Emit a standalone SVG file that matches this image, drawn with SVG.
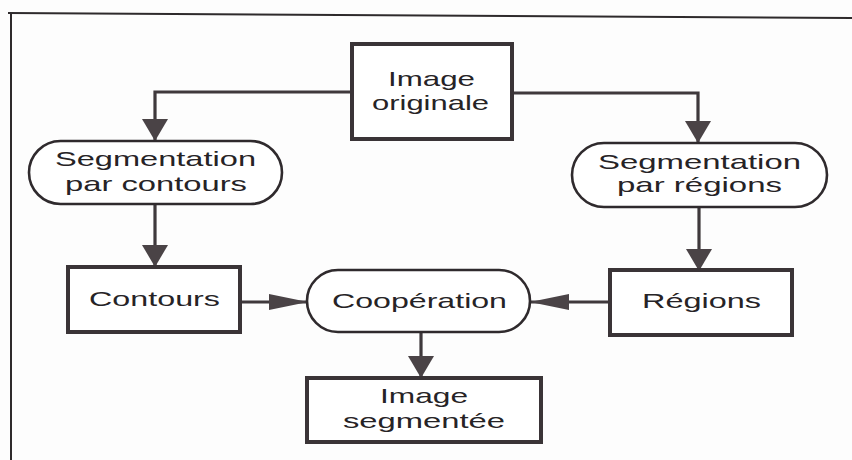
<svg xmlns="http://www.w3.org/2000/svg" width="852" height="460" viewBox="0 0 852 460">
<style>
.bg{fill:#fdfdfd}
.frame{stroke:#2e2a2c;stroke-width:2;fill:none}
.box{fill:#ffffff;stroke:#3a3437;stroke-width:4}
.oval{fill:#ffffff;stroke:#2f2a2d;stroke-width:2.6}
.conn{stroke:#3f393c;stroke-width:3.2;fill:none}
.t{font-family:"Liberation Sans",Arial,sans-serif;font-size:21px;fill:#262326}
</style>
<defs>
<marker id="av" markerUnits="userSpaceOnUse" markerWidth="24" markerHeight="28" refX="22" refY="13" orient="auto">
<path d="M0,0 L22,13 L0,26 Z" fill="#4a4346"/>
</marker>
<marker id="ah" markerUnits="userSpaceOnUse" markerWidth="42" markerHeight="18" refX="39" refY="8" orient="auto">
<path d="M0,0 L39,8 L0,16 Z" fill="#4a4346"/>
</marker>
</defs>
<rect class="bg" x="0" y="0" width="852" height="460"/>
<g id="frame">
<line class="frame" x1="8" y1="13" x2="852" y2="18"/>
<line class="frame" x1="11" y1="13" x2="11" y2="460"/>
</g>
<g id="connectors">
<path class="conn" d="M352,92 H155 V141" marker-end="url(#av)"/>
<path class="conn" d="M512,93 H698 V143" marker-end="url(#av)"/>
<path class="conn" d="M155,204 V267" marker-end="url(#av)"/>
<path class="conn" d="M699,207 V271" marker-end="url(#av)"/>
<path class="conn" d="M240,302 H308" marker-end="url(#ah)"/>
<path class="conn" d="M610,302 H530" marker-end="url(#ah)"/>
<path class="conn" d="M421,333 V378" marker-end="url(#av)"/>
</g>
<g id="image-originale">
<rect class="box" x="352" y="44" width="160" height="95"/>
<text class="t" x="388" y="86" textLength="87" lengthAdjust="spacingAndGlyphs">Image</text>
<text class="t" x="372" y="110" textLength="117" lengthAdjust="spacingAndGlyphs">originale</text>
</g>
<g id="segmentation-contours">
<rect class="oval" x="29" y="141" width="253" height="63" rx="31.5"/>
<text class="t" x="55" y="166" textLength="201" lengthAdjust="spacingAndGlyphs">Segmentation</text>
<text class="t" x="65" y="191" textLength="182" lengthAdjust="spacingAndGlyphs">par contours</text>
</g>
<g id="segmentation-regions">
<rect class="oval" x="572" y="143" width="255" height="64" rx="32"/>
<text class="t" x="598" y="169" textLength="203" lengthAdjust="spacingAndGlyphs">Segmentation</text>
<text class="t" x="617" y="192" textLength="165" lengthAdjust="spacingAndGlyphs">par régions</text>
</g>
<g id="contours">
<rect class="box" x="68" y="267" width="172" height="65"/>
<text class="t" x="89" y="306" textLength="131" lengthAdjust="spacingAndGlyphs">Contours</text>
</g>
<g id="cooperation">
<rect class="oval" x="307" y="270" width="223" height="62" rx="31"/>
<text class="t" x="332" y="308" textLength="175" lengthAdjust="spacingAndGlyphs">Coopération</text>
</g>
<g id="regions">
<rect class="box" x="610" y="270" width="182" height="65"/>
<text class="t" x="642" y="308" textLength="119" lengthAdjust="spacingAndGlyphs">Régions</text>
</g>
<g id="image-segmentee">
<rect class="box" x="307" y="378" width="234" height="64"/>
<text class="t" x="380" y="403" textLength="88" lengthAdjust="spacingAndGlyphs">Image</text>
<text class="t" x="343" y="428" textLength="162" lengthAdjust="spacingAndGlyphs">segmentée</text>
</g>
</svg>
